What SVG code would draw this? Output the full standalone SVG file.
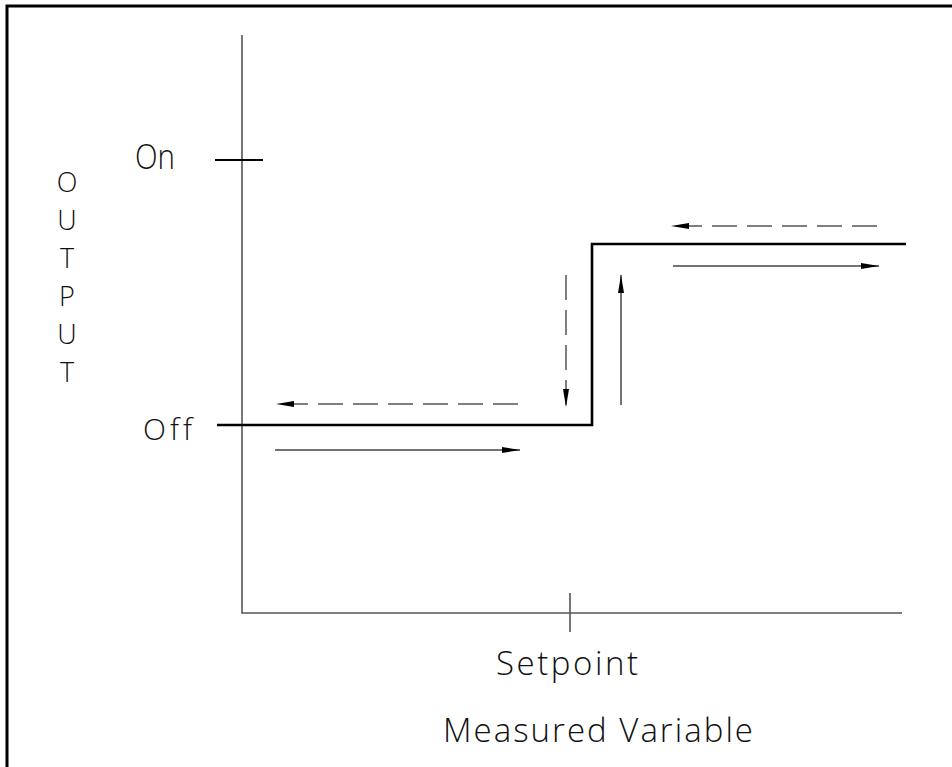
<svg xmlns="http://www.w3.org/2000/svg" width="952" height="767" viewBox="0 0 952 767">
<style>
.lbl{font-family:"Open Sans","DejaVu Sans",sans-serif;font-weight:300;fill:#111;font-variant-ligatures:none;font-feature-settings:"liga" 0;}
.axis{stroke:#555;stroke-width:1.6;fill:none;}
.curve{stroke:#000;stroke-width:2.6;fill:none;}
.sol{stroke:#444;stroke-width:1.5;fill:none;}
.dash{stroke:#555;stroke-width:1.5;fill:none;stroke-dasharray:25 10;}
</style>
<defs>
<marker id="ah" viewBox="0 0 18 6" refX="18" refY="3" markerWidth="18" markerHeight="6" markerUnits="userSpaceOnUse" orient="auto">
<path d="M0,0 L18,3 L0,6 Z" fill="#000"/>
</marker>
</defs>
<rect width="952" height="767" fill="#fff"/>
<path d="M7,767 L7,6 L952,6" fill="none" stroke="#000" stroke-width="3"/>
<g id="axes">
<path class="axis" d="M242,35 L242,613 L902,613"/>
<line class="axis" x1="570" y1="593" x2="570" y2="632"/>
<line x1="215" y1="160" x2="263" y2="160" stroke="#000" stroke-width="2"/>
</g>
<g id="curve">
<path class="curve" d="M217,425 L592,425 L592,244 L906,244"/>
</g>
<g id="connectors">
<line class="dash" x1="518" y1="404" x2="276" y2="404" marker-end="url(#ah)"/>
<line class="sol" x1="275" y1="450" x2="520" y2="450" marker-end="url(#ah)"/>
<line class="dash" x1="566" y1="275" x2="566" y2="407" marker-end="url(#ah)"/>
<line class="sol" x1="621" y1="405" x2="621" y2="275" marker-end="url(#ah)"/>
<line class="dash" x1="877" y1="226" x2="671" y2="226" marker-end="url(#ah)"/>
<line class="sol" x1="673" y1="266" x2="879" y2="266" marker-end="url(#ah)"/>
</g>
<g id="labels">
<text class="lbl" x="135" y="169" font-size="34" textLength="40" lengthAdjust="spacingAndGlyphs">On</text>
<text class="lbl" x="143" y="440" font-size="30" textLength="49" lengthAdjust="spacing">Off</text>
<text class="lbl" x="496" y="675" font-size="33" textLength="142" lengthAdjust="spacing">Setpoint</text>
<text class="lbl" x="443" y="742" font-size="33" textLength="310" lengthAdjust="spacing">Measured Variable</text>
<g font-size="27" text-anchor="middle">
<text class="lbl" x="67" y="192">O</text>
<text class="lbl" x="67" y="230">U</text>
<text class="lbl" x="67" y="268">T</text>
<text class="lbl" x="67" y="306">P</text>
<text class="lbl" x="67" y="344">U</text>
<text class="lbl" x="67" y="382">T</text>
</g>
</g>
</svg>
